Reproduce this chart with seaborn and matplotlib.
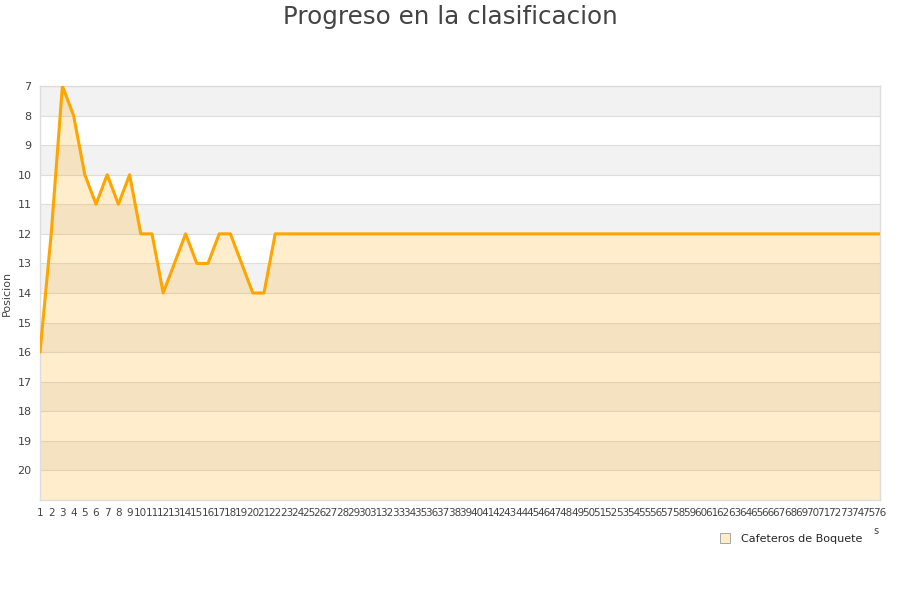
import matplotlib
matplotlib.use("Agg")
import matplotlib.pyplot as plt
from matplotlib.lines import Line2D
import seaborn as sns
import pandas as pd

# Jornadas and league position of the team after each one
rounds = list(range(1, 77))
positions = [16, 12, 7, 8, 10, 11, 10, 11, 10, 12,
             12, 14, 13, 12, 13, 13, 12, 12, 13, 14,
             14, 12] + [12] * 54
team = "Cafeteros de Boquete"
y_ticks = list(range(7, 21))

df = pd.DataFrame({"Jornada": rounds, "Posicion": positions})

sns.set_style("white")
plt.rcParams["font.family"] = ["DejaVu Sans"]

fig = plt.figure(figsize=(9, 6), dpi=100)
ax = fig.add_axes([40 / 900, 1 - 500 / 600, 840 / 900, 414 / 600])

y_min, y_max = 7, 21
# alternating horizontal bands
for k in range(y_min, y_max):
    if (k - y_min) % 2 == 0:
        ax.axhspan(k, k + 1, color="#f2f2f2", lw=0, zorder=0)
for k in range(y_min + 1, y_max):
    ax.axhline(k, color="#dddddd", lw=0.8, zorder=1)

ax.fill_between(df["Jornada"], df["Posicion"], y_max,
                color="orange", alpha=0.2, lw=0, zorder=2)
sns.lineplot(data=df, x="Jornada", y="Posicion", ax=ax,
             color="#ffa500", lw=2.2, zorder=3)

ax.set_xlim(1, 76)
ax.set_ylim(y_max, y_min)
ax.set_xticks(rounds)
ax.set_xticklabels([str(r) for r in rounds], fontsize=7.5, color="#444444")
ax.set_yticks(y_ticks)
ax.set_yticklabels([str(t) for t in y_ticks], fontsize=8, color="#444444")
ax.tick_params(axis="both", length=0, pad=6)
ax.set_xlabel("")
ax.set_ylabel("Posicion", fontsize=8, color="#444444", labelpad=4)
for s in ax.spines.values():
    s.set_color("#dddddd")
    s.set_linewidth(1)

fig.suptitle("Progreso en la clasificacion", fontsize=17.7, color="#444444",
             y=0.992)

handle = Line2D([], [], marker="s", linestyle="none", markersize=7,
                markerfacecolor="#ffecc8", markeredgecolor="#999999",
                markeredgewidth=0.6)
fig.legend([handle], [team], loc="center", bbox_to_anchor=(788 / 900, 1 - 539 / 600),
           frameon=False, fontsize=8, handletextpad=0.4)
fig.text(876 / 900, 1 - 531 / 600, "s", fontsize=7, color="#444444",
         ha="center", va="center")

fig.savefig("out.png", dpi=100)
